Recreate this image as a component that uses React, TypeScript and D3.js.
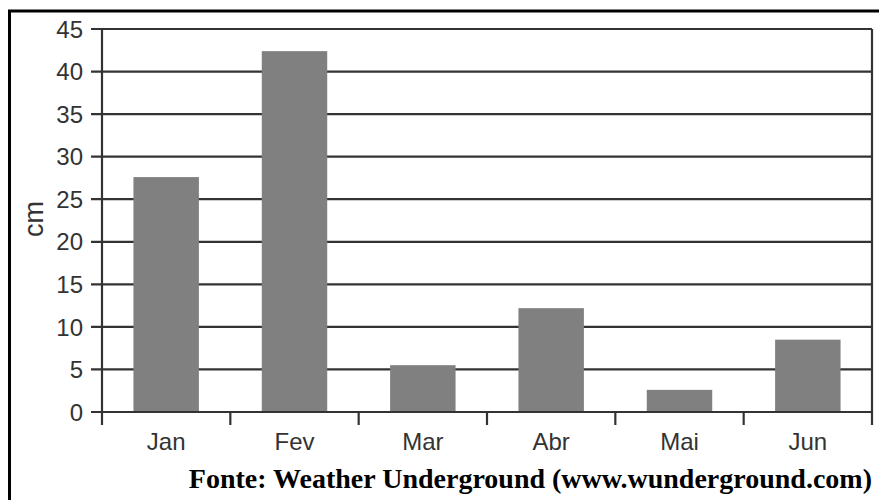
import React from 'react';
import * as d3 from 'd3';

const months = ['Jan', 'Fev', 'Mar', 'Abr', 'Mai', 'Jun'];
const values = [27.6, 42.4, 5.5, 12.2, 2.6, 8.5];
const yTicks = [0, 5, 10, 15, 20, 25, 30, 35, 40, 45];

const App: React.FC = () => {
  const width = 879;
  const height = 500;
  const margin = { top: 29, right: 7, bottom: 88, left: 102 };
  const x0 = margin.left;
  const x1 = width - margin.right;
  const y0 = height - margin.bottom;
  const y1 = margin.top;

  const x = d3.scaleBand().domain(months).range([x0, x1]).paddingInner(0.49).paddingOuter(0.245);
  const xOuter = d3.scaleBand().domain(months).range([x0, x1]);
  const y = d3.scaleLinear().domain([0, 45]).range([y0, y1]);

  const ink = '#333333';
  const tickFont = '"Liberation Sans", Arial, sans-serif';

  return (
    <svg width={width} height={height} style={{ position: 'absolute', left: 0, top: 0, background: '#fff' }}>
      {/* frame */}
      <rect x={9.5} y={11} width={width + 20} height={height + 20} fill="none" stroke="#000" strokeWidth={3} />

      {/* gridlines + y ticks */}
      {yTicks.map(t => (
        <line key={t} x1={x0 - 11} x2={x1} y1={y(t)} y2={y(t)} stroke={ink} strokeWidth={2.2} />
      ))}

      {/* bars */}
      {months.map((m, i) => (
        <rect key={m} x={x(m)!} y={y(values[i])} width={x.bandwidth()} height={y0 - y(values[i])} fill="#808080" />
      ))}

      {/* axis baseline */}
      <line x1={x0 - 11} x2={x1} y1={y0} y2={y0} stroke={ink} strokeWidth={2.2} />
      {/* left axis */}
      <line x1={x0} x2={x0} y1={y1} y2={y0 + 13} stroke={ink} strokeWidth={2.2} />
      {/* x ticks at band boundaries */}
      {months.map(m => (
        <line key={m} x1={xOuter(m)! + xOuter.bandwidth()} x2={xOuter(m)! + xOuter.bandwidth()}
          y1={m === 'Jun' ? y1 : y0} y2={y0 + 13} stroke={ink} strokeWidth={2.2} />
      ))}

      {/* y tick labels */}
      {yTicks.map(t => (
        <text key={t} x={x0 - 19} y={y(t)} dy="0.36em" textAnchor="end" fontSize={24}
          fontFamily={tickFont} fill={ink}>{t}</text>
      ))}

      {/* x labels */}
      {months.map(m => (
        <text key={m} x={xOuter(m)! + xOuter.bandwidth() / 2} y={450} textAnchor="middle" fontSize={24}
          fontFamily={tickFont} fill={ink}>{m}</text>
      ))}

      {/* y axis title */}
      <text transform="rotate(-90)" x={-219} y={43} textAnchor="middle" fontSize={27}
        fontFamily={tickFont} fill={ink}>cm</text>

      {/* source */}
      <text x={872} y={488} textAnchor="end" fontSize={28} fontWeight="bold"
        fontFamily='"Liberation Serif", "Times New Roman", serif' fill="#000">
        Fonte: Weather Underground (www.wunderground.com)
      </text>
    </svg>
  );
};

export default App;
